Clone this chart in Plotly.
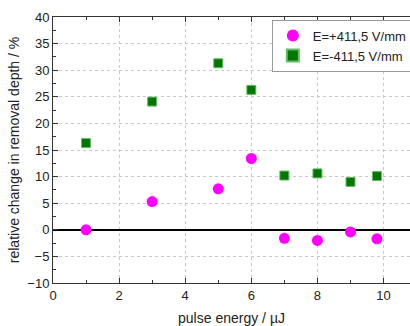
import plotly.graph_objects as go

energy = [1, 3, 5, 6, 7, 8, 9, 9.8]
pos_field = [0.0, 5.3, 7.7, 13.4, -1.6, -2.0, -0.4, -1.7]
neg_field = [16.3, 24.1, 31.3, 26.3, 10.2, 10.6, 9.0, 10.1]
name_pos = "E=+411,5 V/mm"
name_neg = "E=-411,5 V/mm"

fig = go.Figure()
fig.add_trace(go.Scatter(x=energy, y=pos_field, mode="markers", name=name_pos,
                         marker=dict(symbol="circle", size=11, color="#ff00ff",
                                     line=dict(width=0))))
fig.add_trace(go.Scatter(x=energy, y=neg_field, mode="markers", name=name_neg,
                         marker=dict(symbol="square", size=9, color="#007700",
                                     line=dict(width=1, color="#66bb66"))))

font_family = "Liberation Sans, Arial, sans-serif"
fig.update_layout(
    width=410, height=326,
    margin=dict(l=53, r=0, t=17, b=43, autoexpand=False),
    paper_bgcolor="white", plot_bgcolor="white",
    font=dict(family=font_family, size=13, color="#222"),
    showlegend=True,
    legend=dict(x=0.613, y=0.99, xanchor="left", yanchor="top",
                bordercolor="#999", borderwidth=1, bgcolor="white",
                font=dict(size=13), itemsizing="constant", itemwidth=30,
                tracegroupgap=0),
    xaxis=dict(range=[0, 10.8], tickvals=[0, 2, 4, 6, 8, 10],
               ticks="inside", ticklen=5, tickcolor="#333", automargin=False,
               minor=dict(dtick=1, ticks="inside", ticklen=3, tickcolor="#333", showgrid=False),
               showline=True, linecolor="#333", linewidth=1, mirror="ticks",
               showgrid=True, gridcolor="#c8c8c8", griddash="dot", gridwidth=1,
               zeroline=False,
               title=dict(text="pulse energy / µJ", font=dict(size=14), standoff=11),
               tickfont=dict(size=13)),
    yaxis=dict(range=[-10, 40], dtick=5,
               ticks="inside", ticklen=5, tickcolor="#333", automargin=False,
               minor=dict(dtick=2.5, ticks="inside", ticklen=3, tickcolor="#333", showgrid=False),
               showline=True, linecolor="#333", linewidth=1,
               showgrid=True, gridcolor="#c8c8c8", griddash="dot", gridwidth=1,
               zeroline=True, zerolinecolor="black", zerolinewidth=2,
               title=dict(text="relative change in removal depth / %", font=dict(size=14), standoff=4),
               tickfont=dict(size=13)),
)

fig.write_html("out.html", config={"displayModeBar": False},
               post_script="document.body.style.margin='0';")
